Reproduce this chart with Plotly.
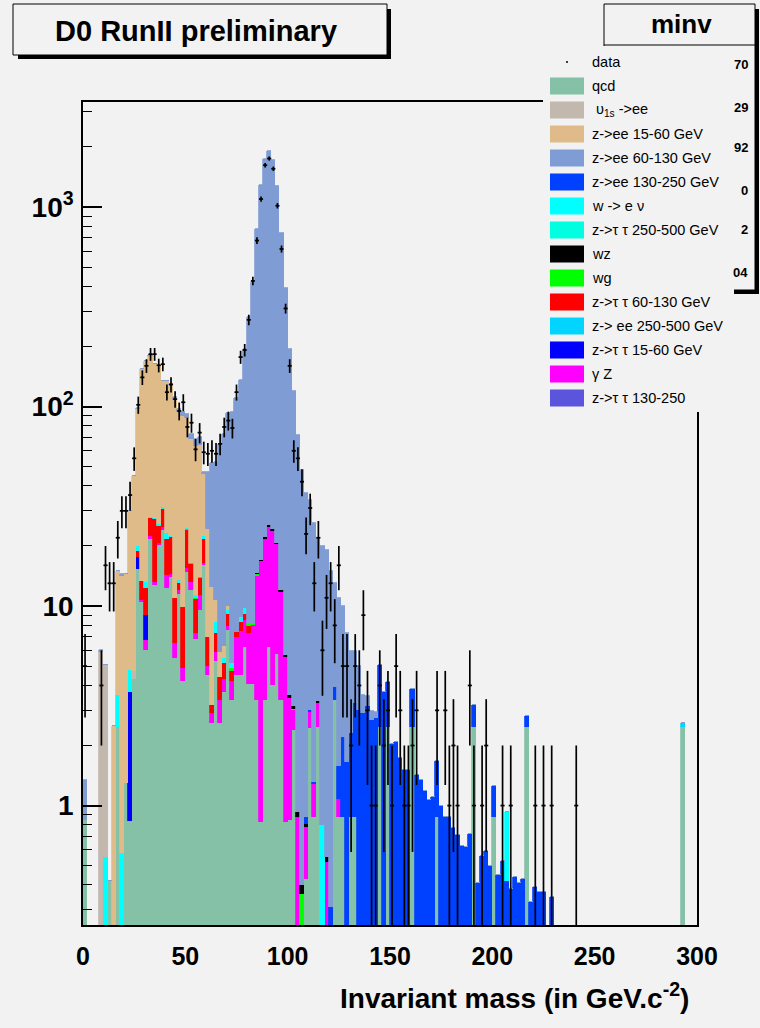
import math
import plotly.graph_objects as go

# ---------------- data (2 GeV bins, 0-300 GeV) ----------------
bin_width = 2.0
n_bins = 150

data_counts = [
    5, 0, 0, 0, 4, 16, 13, 13, 22, 30,
    30, 36, 55, 102, 140, 160, 183, 183, 161, 163,
    118, 129, 109, 95, 105, 79, 83, 61, 74, 59,
    58, 60, 58, 65, 79, 85, 78, 118, 177, 192,
    272, 426, 679, 1096, 1620, 1750, 1555, 1015, 616, 310,
    160, 60, 55, 42, 23, 31, 13, 22, 6, 11,
    13, 8, 16, 5, 5, 2, 5, 4, 9, 3,
    1, 1, 4, 2, 3, 1, 5, 3, 1, 1,
    2, 3, 0, 0, 0, 0, 3, 0, 3, 1,
    2, 1, 0, 0, 4, 1, 0, 1, 2, 0,
    0, 0, 1, 0, 1, 0, 0, 0, 0, 0,
    1, 0, 1, 0, 1, 0, 0, 0, 0, 0,
    1, 0, 0, 0, 0, 0, 0, 0, 0, 0,
    0, 0, 0, 0, 0, 0, 0, 0, 0, 0,
    0, 0, 0, 0, 0, 0, 0, 0, 0, 0,
]

qcd = [
    0.85, 0, 0, 0, 0, 0, 0.42, 0, 2.48, 0,
    1.3, 0.84, 4.3, 15.3, 10.5, 6.05, 21.8, 12.8, 20.3, 24.0,
    12.3, 14.0, 5.5, 11.5, 4.2, 14.8, 12.0, 6.8, 9.5, 16.0,
    4.5, 2.6, 5.3, 2.6, 3.7, 7.6, 3.4, 4.5, 4.5, 6.2,
    4.06, 4.06, 3.4, 0.83, 3.4, 6.2, 4.0, 5.75, 3.4, 0.83,
    0.85, 2.4, 0, 0, 0.43, 2.45, 0.88, 2.48, 0, 0,
    0, 3.38, 0.88, 0.88, 0, 0.88, 0.88, 0, 0, 0,
    0, 0, 2.48, 0, 2.48, 0, 0, 0, 0, 0,
    2.48, 0, 0, 0, 0, 0, 0.88, 0, 0, 0,
    0, 0, 0, 0, 0, 2.48, 0, 0, 0, 0,
    0.88, 0, 0, 0, 0, 0, 0, 0, 2.48, 0,
    0, 0, 0, 0, 0, 0, 0, 0, 0, 0,
    0, 0, 0, 0, 0, 0, 0, 0, 0, 0,
    0, 0, 0, 0, 0, 0, 0, 0, 0, 0,
    0, 0, 0, 0, 0, 0, 2.48, 0, 0, 0,
]

gamma_z = [
    0, 0, 0, 0, 0, 0, 0, 0, 0, 0,
    0, 0, 0, 0, 0.2, 0.7, 0.6, 0.4, 0.4, 0.8,
    2.0, 0.5, 1.0, 0.5, 0.7, 0.7, 1.2, 0.5, 1.8, 0.5,
    0.5, 0.3, 0.6, 0.8, 0.6, 0.3, 0.8, 2.5, 3.0, 2.3,
    3.3, 4.0, 10.8, 16.0, 18.4, 18.8, 19.8, 14.6, 8.4, 4.7,
    2.6, 0.6, 0.88, 0, 0.35, 0.5, 0.4, 0.8, 0, 0.52,
    0, 0, 0.2, 0, 0, 0, 0, 0, 0, 0.1,
    0.08, 0, 0, 0, 0, 0, 0, 0, 0, 0,
    0, 0, 0, 0, 0, 0, 0, 0, 0, 0,
    0, 0, 0, 0, 0, 0, 0, 0, 0, 0,
    0, 0, 0, 0, 0, 0, 0, 0, 0, 0,
    0, 0, 0, 0, 0, 0, 0, 0, 0, 0,
    0, 0, 0, 0, 0, 0, 0, 0, 0, 0,
    0, 0, 0, 0, 0, 0, 0, 0, 0, 0,
    0, 0, 0, 0, 0, 0, 0, 0, 0, 0,
]

ztt_15_60 = [
    0, 0, 0, 0, 0, 0, 0, 0, 0, 0,
    0, 2.85, 0, 2.3, 0, 2.25, 0, 0, 0, 0,
    0, 0, 0, 0, 0, 0, 0, 0, 0, 0,
    0, 0, 0, 0, 0, 0, 0, 0, 0, 0,
    0, 0, 0, 0, 0, 0, 0, 0, 0, 0,
    0, 0, 0, 0, 0, 0, 0, 0, 0, 0,
    0, 0, 0, 0, 0, 0, 0, 0, 0, 0,
    0, 0, 0, 0, 0, 0, 0, 0, 0, 0,
    0, 0, 0, 0, 0, 0, 0, 0, 0, 0,
    0, 0, 0, 0, 0, 0, 0, 0, 0, 0,
    0, 0, 0, 0, 0, 0, 0, 0, 0, 0,
    0, 0, 0, 0, 0, 0, 0, 0, 0, 0,
    0, 0, 0, 0, 0, 0, 0, 0, 0, 0,
    0, 0, 0, 0, 0, 0, 0, 0, 0, 0,
    0, 0, 0, 0, 0, 0, 0, 0, 0, 0,
]

ztt_60_130 = [
    0, 0, 0, 0, 0, 0, 0, 0, 0, 0,
    0, 0, 0, 1.3, 2.6, 3.3, 5.1, 14.0, 4.5, 6.0,
    7.4, 7.7, 4.5, 1.0, 5.0, 8.5, 3.0, 3.5, 2.5, 5.3,
    2.0, 0.3, 1.4, 1.0, 0.9, 1.2, 0.5, 0.4, 0.8, 0.6,
    0.6, 0, 0, 0, 0, 0, 0, 0, 0, 0,
    0, 0, 0, 0, 0, 0, 0, 0, 0, 0,
    0, 0, 0, 0, 0, 0, 0, 0, 0, 0,
    0, 0, 0, 0, 0, 0, 0, 0, 0, 0,
    0, 0, 0, 0, 0, 0, 0, 0, 0, 0,
    0, 0, 0, 0, 0, 0, 0, 0, 0, 0,
    0, 0, 0, 0, 0, 0, 0, 0, 0, 0,
    0, 0, 0, 0, 0, 0, 0, 0, 0, 0,
    0, 0, 0, 0, 0, 0, 0, 0, 0, 0,
    0, 0, 0, 0, 0, 0, 0, 0, 0, 0,
    0, 0, 0, 0, 0, 0, 0, 0, 0, 0,
]

wg = [
    0, 0, 0, 0, 0, 0, 0, 0, 0, 0,
    0, 0, 0, 0, 0, 0, 0, 0, 0, 0,
    0, 0, 0, 0, 0, 0.3, 0.3, 0.2, 0.2, 0,
    0, 0, 0, 0, 0, 0, 0.2, 0, 0, 0,
    0.2, 0.1, 0.3, 0, 0, 0, 0, 0, 0, 0,
    0, 0.05, 0, 0.36, 0, 0, 0, 0, 0, 0,
    0, 0, 0, 0, 0, 0, 0, 0, 0, 0.15,
    0, 0.2, 0, 0, 0, 0, 0, 0, 0, 0,
    0, 0, 0, 0, 0, 0, 0, 0, 0, 0,
    0, 0, 0, 0, 0, 0, 0, 0, 0, 0,
    0, 0, 0, 0, 0, 0, 0, 0, 0, 0,
    0, 0, 0, 0, 0, 0, 0, 0, 0, 0,
    0, 0, 0, 0, 0, 0, 0, 0, 0, 0,
    0, 0, 0, 0, 0, 0, 0, 0, 0, 0,
    0, 0, 0, 0, 0, 0, 0, 0, 0, 0,
]

wz = [
    0, 0, 0, 0, 0, 0, 0, 0, 0, 0,
    0, 0, 0, 0, 0, 0, 0, 0, 0, 0,
    0, 0, 0, 0, 0, 0, 0, 0, 0, 0,
    0, 0, 0, 0, 0, 0, 0, 0, 0, 0,
    0, 0, 0.1, 0.2, 0.3, 0.4, 0.4, 0.3, 0.2, 0.15,
    0.15, 0.1, 0.05, 0.04, 0.03, 0, 0, 0.05, 0, 0.03,
    0.03, 0, 0, 0, 0, 0, 0, 0, 0, 0,
    0, 0, 0, 0, 0, 0.03, 0, 0, 0, 0,
    0, 0, 0, 0, 0, 0, 0, 0, 0, 0,
    0.03, 0, 0, 0, 0, 0, 0.03, 0, 0, 0,
    0, 0, 0, 0, 0, 0, 0, 0, 0, 0,
    0, 0, 0, 0, 0, 0, 0, 0, 0, 0,
    0, 0, 0, 0, 0, 0, 0, 0, 0, 0,
    0, 0, 0, 0, 0, 0, 0, 0, 0, 0,
    0, 0, 0, 0, 0, 0, 0, 0, 0, 0,
]

zee_130_250 = [
    0, 0, 0, 0, 0, 0, 0, 0, 0, 0,
    0, 0, 0, 0, 0, 0, 0, 0, 0, 0,
    0, 0, 0, 0, 0, 0, 0, 0, 0, 0,
    0, 0, 0, 0, 0, 0, 0, 0, 0, 0,
    0, 0, 0, 0, 0, 0, 0, 0, 0, 0,
    0, 0, 0, 0, 0.07, 0.05, 0.03, 0, 0, 0,
    0.28, 0.57, 0.5, 1.33, 1.66, 1.42, 2.4, 3.0, 2.9, 2.9,
    2.6, 2.55, 2.57, 3.7, 1.69, 2.0, 2.09, 1.74, 1.5, 1.5,
    1.38, 1.43, 1.34, 1.18, 1.07, 1.1, 0.8, 0.99, 0.88, 0.88,
    0.74, 0.71, 0.63, 0.62, 0.72, 0.7, 0.38, 0.56, 0.59, 0.5,
    0.37, 0.45, 0.53, 0.42, 0.38, 0.44, 0.41, 0.43, 0.33, 0.33,
    0.39, 0.37, 0.37, 0, 0.35, 0, 0, 0, 0, 0,
    0, 0, 0, 0, 0, 0, 0, 0, 0, 0,
    0, 0, 0, 0, 0, 0, 0, 0, 0, 0,
    0, 0, 0, 0, 0, 0, 0, 0, 0, 0,
]

w_enu = [
    0, 0, 0, 0, 0, 0.55, 0, 0, 1.1, 0.58,
    0, 1.1, 0, 1.0, 0, 0.9, 0.4, 0.3, 0.6, 0.7,
    1.5, 0.3, 0, 0.5, 0, 0.2, 0, 0.3, 0, 0.6,
    0, 0, 1.0, 0, 0.3, 0.4, 0.3, 0, 0.5, 0.7,
    0, 0, 0, 0, 0, 0, 0, 0, 0, 0,
    0, 0, 0, 0, 0, 0, 0, 0, 0.8, 0,
    0, 0, 0, 0, 0, 0, 0, 0, 0, 0,
    0, 0, 0, 0, 0, 0, 0, 0, 0, 0,
    0, 0, 0, 0, 0, 0, 0, 0, 0, 0,
    0, 0, 0, 0, 0, 0, 0, 0, 0, 0,
    0, 0, 0, 0.51, 0, 0, 0, 0, 0, 0,
    0, 0, 0, 0, 0, 0, 0, 0, 0, 0,
    0, 0, 0, 0, 0, 0, 0, 0, 0, 0,
    0, 0, 0, 0, 0, 0, 0, 0, 0, 0,
    0, 0, 0, 0, 0, 0, 0, 0, 0, 0,
]

ztt_250_500 = [
    0, 0, 0, 0, 0, 0, 0, 0, 0, 0,
    0, 0, 0, 0, 0, 0, 0, 0, 0, 0,
    0, 0, 0, 0, 0, 0, 0, 0, 0, 0,
    0, 0, 0, 0, 0, 0, 0, 0, 0, 0,
    0, 0, 0, 0, 0, 0, 0, 0, 0, 0,
    0, 0, 0, 0, 0, 0, 0, 0, 0, 0,
    0, 0, 0, 0, 0, 0, 0, 0, 0, 0,
    0, 0, 0, 0, 0, 0, 0, 0, 0, 0,
    0, 0, 0, 0, 0, 0, 0, 0, 0, 0,
    0, 0, 0, 0, 0, 0, 0, 0, 0, 0,
    0, 0, 0, 0, 0, 0, 0, 0, 0, 0,
    0, 0, 0, 0, 0, 0, 0, 0, 0, 0,
    0, 0, 0, 0, 0, 0, 0, 0, 0, 0,
    0, 0, 0, 0, 0, 0, 0, 0, 0, 0,
    0, 0, 0, 0, 0, 0, 0, 0, 0, 0,
]

zee_250_500 = [
    0, 0, 0, 0, 0, 0, 0, 0, 0, 0,
    0, 0, 0, 0, 0, 0, 0, 0, 0, 0,
    0, 0, 0, 0, 0, 0, 0, 0, 0, 0,
    0, 0, 0, 0, 0, 0, 0, 0, 0, 0,
    0, 0, 0, 0, 0, 0, 0, 0, 0, 0,
    0, 0, 0, 0, 0, 0, 0, 0, 0, 0,
    0, 0, 0, 0, 0, 0, 0, 0, 0, 0,
    0, 0, 0, 0, 0, 0, 0, 0, 0, 0,
    0, 0, 0, 0, 0, 0, 0, 0, 0, 0,
    0, 0, 0, 0, 0, 0, 0, 0, 0, 0,
    0, 0, 0, 0, 0, 0, 0, 0, 0, 0,
    0, 0, 0, 0, 0, 0, 0, 0, 0, 0,
    0, 0, 0, 0, 0, 0, 0, 0, 0, 0,
    0, 0, 0, 0, 0, 0, 0, 0, 0, 0,
    0, 0, 0, 0, 0, 0, 0.1, 0, 0, 0,
]

ztt_130_250 = [
    0, 0, 0, 0, 0, 0, 0, 0, 0, 0,
    0, 0, 0, 0, 0, 0, 0, 0, 0, 0,
    0, 0, 0, 0, 0, 0, 0, 0, 0, 0,
    0, 0, 0, 0, 0, 0, 0, 0, 0, 0,
    0, 0, 0, 0, 0, 0, 0, 0, 0, 0,
    0, 0, 0, 0, 0, 0, 0, 0, 0, 0,
    0, 0, 0, 0, 0, 0, 0, 0, 0, 0,
    0, 0, 0, 0, 0, 0, 0, 0, 0, 0,
    0, 0, 0, 0, 0, 0, 0, 0, 0, 0,
    0, 0, 0, 0, 0, 0, 0, 0, 0, 0,
    0, 0, 0, 0, 0, 0, 0, 0, 0, 0,
    0, 0, 0, 0, 0, 0, 0, 0, 0, 0,
    0, 0, 0, 0, 0, 0, 0, 0, 0, 0,
    0, 0, 0, 0, 0, 0, 0, 0, 0, 0,
    0, 0, 0, 0, 0, 0, 0, 0, 0, 0,
]

upsilon_ee = [
    0, 0, 0, 0, 5.9, 4.5, 0, 0, 0, 0,
    0, 0, 0.4, 0, 0, 0, 0, 0, 0, 0,
    0, 0, 0, 0, 0, 0, 0, 0, 0, 0,
    0, 0, 0, 0, 0, 0, 0, 0, 0, 0,
    0, 0, 0, 0, 0, 0, 0, 0, 0, 0,
    0, 0, 0, 0, 0, 0, 0, 0, 0, 0,
    0, 0, 0, 0, 0, 0, 0, 0, 0, 0,
    0, 0, 0, 0, 0, 0, 0, 0, 0, 0,
    0, 0, 0, 0, 0, 0, 0, 0, 0, 0,
    0, 0, 0, 0, 0, 0, 0, 0, 0, 0,
    0, 0, 0, 0, 0, 0, 0, 0, 0, 0,
    0, 0, 0, 0, 0, 0, 0, 0, 0, 0,
    0, 0, 0, 0, 0, 0, 0, 0, 0, 0,
    0, 0, 0, 0, 0, 0, 0, 0, 0, 0,
    0, 0, 0, 0, 0, 0, 0, 0, 0, 0,
]

zee_15_60 = [
    0, 0, 0, 0, 0, 0, 0, 2.5, 11.4, 13.6,
    13.2, 25.2, 40.3, 77, 140.7, 155.8, 152, 135.5, 133, 102.5,
    110.8, 105.5, 97, 80, 80, 63, 52, 52, 50, 23.5,
    17.4, 9.3, 2.4, 1.5, 0.8, 0.5, 0, 0, 0, 0,
    0, 0, 0, 0, 0, 0, 0, 0, 0, 0,
    0, 0, 0, 0, 0, 0, 0, 0, 0, 0,
    0, 0, 0, 0, 0, 0, 0, 0, 0, 0,
    0, 0, 0, 0, 0, 0, 0, 0, 0, 0,
    0, 0, 0, 0, 0, 0, 0, 0, 0, 0,
    0, 0, 0, 0, 0, 0, 0, 0, 0, 0,
    0, 0, 0, 0, 0, 0, 0, 0, 0, 0,
    0, 0, 0, 0, 0, 0, 0, 0, 0, 0,
    0, 0, 0, 0, 0, 0, 0, 0, 0, 0,
    0, 0, 0, 0, 0, 0, 0, 0, 0, 0,
    0, 0, 0, 0, 0, 0, 0, 0, 0, 0,
]

zee_60_130 = [
    0.5, 0, 0, 0, 0.1, 0, 0, 0, 0, 0.3,
    0, 0, 0, 1.1, 1, 1, 1.1, 1, 1.2, 1,
    1, 1, 3, 3.5, 4.1, 4.5, 4.5, 5.7, 6, 1.1,
    22.5, 39.5, 42.3, 59.1, 66.7, 83, 88.8, 102.6, 127.2, 184.5,
    273.8, 412.8, 763.4, 1273, 1722.9, 1889.6, 1700.8, 1259.4, 728, 388.3,
    191.4, 116.9, 71, 47.5, 36.1, 31, 24.7, 18.7, 19.2, 18.45,
    14.7, 9.05, 9.4, 7.8, 5.64, 3.62, 2.7, 2.0, 0.7, 0.4,
    0.3, 0.2, 0, 0, 0, 0, 0, 0, 0, 0,
    0, 0, 0, 0, 0, 0, 0, 0, 0, 0,
    0, 0, 0, 0, 0, 0, 0, 0, 0, 0,
    0, 0, 0, 0, 0, 0, 0, 0, 0, 0,
    0, 0, 0, 0, 0, 0, 0, 0, 0, 0,
    0, 0, 0, 0, 0, 0, 0, 0, 0, 0,
    0, 0, 0, 0, 0, 0, 0, 0, 0, 0,
    0, 0, 0, 0, 0, 0, 0, 0, 0, 0,
]

x_ticks = [0, 50, 100, 150, 200, 250, 300]
x_tick_labels = ["0", "50", "100", "150", "200", "250", "300"]
y_ticks = [1, 10, 100, 1000]
y_tick_labels = ["1", "10", "10<sup>2</sup>", "10<sup>3</sup>"]
stats_values = ["70", "29", "92", "0", "2", "04"]

# ---------------- styling ----------------
BG = "#f2f2f2"
FONT = "Liberation Sans, Arial, Helvetica, sans-serif"

# stacking order (bottom -> top) : name, values, colour
stack = [
    ("qcd", qcd, "#85c1a6"),
    ("γ Z", gamma_z, "#ff00ff"),
    ("z->τ τ 15-60 GeV", ztt_15_60, "#0000ff"),
    ("z->τ τ 60-130 GeV", ztt_60_130, "#ff0000"),
    ("wg", wg, "#00ff00"),
    ("wz", wz, "#000000"),
    ("z->ee 130-250 GeV", zee_130_250, "#0040ff"),
    ("w -> e ν", w_enu, "#00ffff"),
    ("z->τ τ 250-500 GeV", ztt_250_500, "#00ffe0"),
    ("z-> ee 250-500 GeV", zee_250_500, "#00d4ff"),
    ("z->τ τ 130-250", ztt_130_250, "#5a55dc"),
    ("υ<sub>1s</sub> ->ee", upsilon_ee, "#c2b8ae"),
    ("z->ee 15-60 GeV", zee_15_60, "#debb88"),
    ("z->ee 60-130 GeV", zee_60_130, "#7f9cd4"),
]
colour_of = {name: col for name, _, col in stack}

legend_order = [
    "qcd", "υ<sub>1s</sub> ->ee", "z->ee 15-60 GeV", "z->ee 60-130 GeV",
    "z->ee 130-250 GeV", "w -> e ν", "z->τ τ 250-500 GeV", "wz", "wg",
    "z->τ τ 60-130 GeV", "z-> ee 250-500 GeV", "z->τ τ 15-60 GeV", "γ Z",
    "z->τ τ 130-250",
]

centers = [bin_width * (i + 0.5) for i in range(n_bins)]

fig = go.Figure()
for name, vals, col in stack:
    fig.add_trace(go.Bar(
        x=centers, y=vals, width=bin_width, name=name,
        marker=dict(color=col, line=dict(width=0.8, color=col)),
        showlegend=False, hoverinfo="skip",
    ))

dx = [c for c, n in zip(centers, data_counts) if n > 0]
dy = [n for n in data_counts if n > 0]
derr = [math.sqrt(n) for n in dy]
fig.add_trace(go.Scatter(
    x=dx, y=dy, mode="markers", name="data", showlegend=False,
    marker=dict(color="black", size=2),
    error_y=dict(type="data", array=derr, color="black", thickness=1.7, width=0),
    error_x=dict(type="constant", value=bin_width / 2, color="black", thickness=1.7, width=0),
))

# ---------------- layout geometry (pixels) ----------------
W, H = 760, 1028
PL, PR, PT, PB = 83, 697, 102, 925


def px(x):
    return (x - PL) / (PR - PL)


def py(y):
    return (PB - y) / (PB - PT)


minor_vals = [m * 10 ** e for e in range(-1, 4) for m in range(2, 10) if 0.25 < m * 10 ** e < 3400]

fig.update_layout(
    width=W, height=H,
    margin=dict(l=PL, r=W - PR, t=PT, b=H - PB),
    paper_bgcolor=BG, plot_bgcolor=BG,
    barmode="stack", bargap=0,
    showlegend=False,
    font=dict(family=FONT, color="black"),
    xaxis=dict(
        range=[0, 300], tickmode="array", tickvals=x_ticks, ticktext=x_tick_labels,
        ticks="", showgrid=False, zeroline=False,
        showline=True, linecolor="black", linewidth=1.5, mirror=True,
        tickfont=dict(family=FONT, size=25, color="black", weight="bold"),
        ticklabelstandoff=8,
    ),
    yaxis=dict(
        type="log", range=[math.log10(0.252), math.log10(3360)],
        tickmode="array", tickvals=y_ticks, ticktext=y_tick_labels,
        ticks="inside", ticklen=19, tickwidth=1.5, tickcolor="black",
        minor=dict(tickmode="array", tickvals=minor_vals, ticks="inside",
                   ticklen=9, tickwidth=1.2, tickcolor="black", showgrid=False),
        showgrid=False, zeroline=False,
        showline=True, linecolor="black", linewidth=1.5, mirror=True,
        tickfont=dict(family=FONT, size=28, color="black", weight="bold"),
        ticklabelstandoff=2,
    ),
)

shapes = []
annotations = []

# title pave with shadow
shapes.append(dict(type="rect", xref="paper", yref="paper", x0=px(18), x1=px(391), y0=py(59), y1=py(9),
                   fillcolor="black", line=dict(width=0), layer="above"))
shapes.append(dict(type="rect", xref="paper", yref="paper", x0=px(13), x1=px(387), y0=py(55), y1=py(4),
                   fillcolor=BG, line=dict(color="black", width=1), layer="above"))
annotations.append(dict(xref="paper", yref="paper", x=px(196), y=py(31), text="<b>D0 RunII preliminary</b>",
                        showarrow=False, xanchor="center", yanchor="middle",
                        font=dict(family=FONT, size=29, color="black")))

# stats pave (mostly hidden by legend)
shapes.append(dict(type="rect", xref="paper", yref="paper", x0=px(608), x1=px(759), y0=py(294), y1=py(9),
                   fillcolor="black", line=dict(width=0), layer="above"))
shapes.append(dict(type="rect", xref="paper", yref="paper", x0=px(604), x1=px(755), y0=py(290), y1=py(4),
                   fillcolor=BG, line=dict(color="black", width=1), layer="above"))
shapes.append(dict(type="line", xref="paper", yref="paper", x0=px(604), x1=px(755), y0=py(45), y1=py(45),
                   line=dict(color="black", width=1), layer="above"))
annotations.append(dict(xref="paper", yref="paper", x=px(681), y=py(24), text="<b>minv</b>",
                        showarrow=False, xanchor="center", yanchor="middle",
                        font=dict(family=FONT, size=26, color="black")))
for val, yy in zip(stats_values, [64, 107, 148, 190, 229, 272]):
    annotations.append(dict(xref="paper", yref="paper", x=px(750), y=py(yy), text="<b>%s</b>" % val,
                            showarrow=False, xanchor="right", yanchor="middle",
                            font=dict(family=FONT, size=13, color="black")))

# legend background
shapes.append(dict(type="rect", xref="paper", yref="paper", x0=px(543), x1=px(734), y0=py(412), y1=py(46),
                   fillcolor=BG, line=dict(width=0), layer="above"))

row0, row_step = 62, 24
# data entry
shapes.append(dict(type="circle", xref="paper", yref="paper", x0=px(566), x1=px(568), y0=py(63), y1=py(61),
                   fillcolor="black", line=dict(width=0), layer="above"))
annotations.append(dict(xref="paper", yref="paper", x=px(590), y=py(row0), text="data",
                        showarrow=False, xanchor="left", yanchor="middle",
                        font=dict(family=FONT, size=14.5, color="black")))
for k, name in enumerate(legend_order, start=1):
    c = row0 + row_step * k
    shapes.append(dict(type="rect", xref="paper", yref="paper", x0=px(550), x1=px(584),
                       y0=py(c + 8.5), y1=py(c - 8.5),
                       fillcolor=colour_of[name], line=dict(width=0), layer="above"))
    label = (" " + name) if name.startswith("υ") else name
    annotations.append(dict(xref="paper", yref="paper", x=px(590), y=py(c), text=label,
                            showarrow=False, xanchor="left", yanchor="middle",
                            font=dict(family=FONT, size=14.5, color="black")))

# x-axis title
annotations.append(dict(xref="paper", yref="paper", x=px(691), y=py(996),
                        text="<b>Invariant mass (in GeV.c<sup>-2</sup>)</b>",
                        showarrow=False, xanchor="right", yanchor="middle",
                        font=dict(family=FONT, size=28, color="black")))

fig.update_layout(shapes=shapes, annotations=annotations)
fig.write_html("out.html")
